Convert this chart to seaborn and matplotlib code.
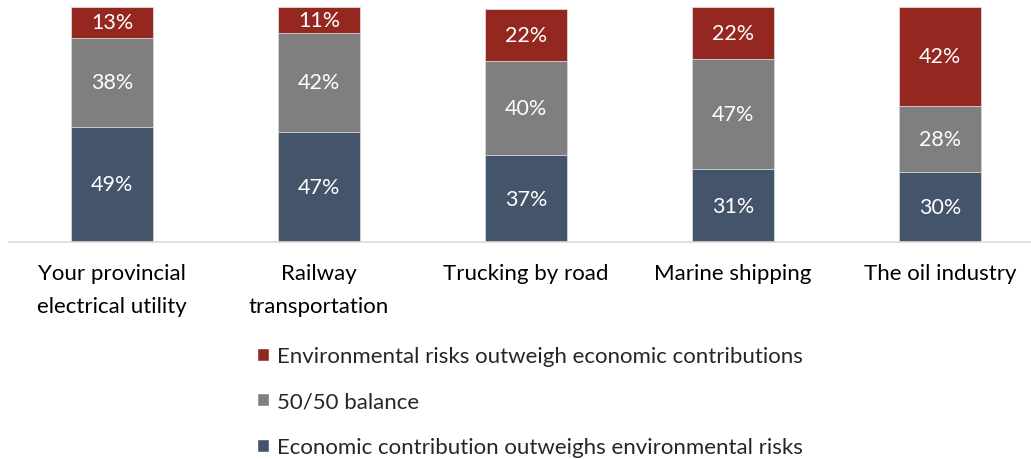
import matplotlib
matplotlib.use("Agg")
import matplotlib.pyplot as plt
import seaborn as sns
import numpy as np
import pandas as pd
from matplotlib.patches import Patch

categories = ["Your provincial\nelectrical utility", "Railway\ntransportation",
              "Trucking by road", "Marine shipping", "The oil industry"]
economic = [49, 47, 37, 31, 30]
balance = [38, 42, 40, 47, 28]
environmental = [13, 11, 22, 22, 42]
series_names = ["Environmental risks outweigh economic contributions",
                "50/50 balance",
                "Economic contribution outweighs environmental risks"]

c_env = "#952721"
c_bal = "#7F7F7F"
c_eco = "#44546A"

sns.set_theme(style="white")
plt.rcParams['font.family'] = ['Lato', 'DejaVu Sans']

fig = plt.figure(figsize=(10.31, 4.6), dpi=100)
ax = fig.add_axes([8.5/1031, 1-243/460, 1022.5/1031, 235/460])

eco = np.array(economic)
bal = np.array(balance)
env = np.array(environmental)
df = pd.DataFrame({"cat": categories,
                   "top": eco + bal + env,
                   "mid": eco + bal,
                   "low": eco})

for col, colr in [("top", c_env), ("mid", c_bal), ("low", c_eco)]:
    sns.barplot(data=df, x="cat", y=col, color=colr, width=0.396,
                edgecolor="#D9D9D9", linewidth=0.6, ax=ax, saturation=1)

for i in range(len(categories)):
    for bottom, val in [(0, eco[i]), (eco[i], bal[i]), (eco[i] + bal[i], env[i])]:
        ax.text(i, bottom + val / 2, f"{val}%", ha="center", va="center",
                color="white", fontsize=15.5)

ax.set_ylim(0, 100)
ax.set_xlim(-0.5, -0.5 + 1022.5 / 207)
ax.set_xlabel("")
ax.set_ylabel("")
ax.set_yticks([])
for s in ["top", "left", "right"]:
    ax.spines[s].set_visible(False)
ax.spines["bottom"].set_color("#D9D9D9")
ax.spines["bottom"].set_linewidth(1.2)
ax.tick_params(axis="x", length=0, pad=15, labelsize=16, labelcolor="black")
for t in ax.get_xticklabels():
    t.set_linespacing(1.85)

handles = [Patch(facecolor=c_env), Patch(facecolor=c_bal), Patch(facecolor=c_eco)]
fig.legend(handles, series_names, loc="upper left",
           bbox_to_anchor=(257/1031, 1 - 347/460), frameon=False,
           fontsize=16, handlelength=0.54, handleheight=0.54,
           handletextpad=0.38, labelspacing=1.15, borderpad=0, borderaxespad=0)

fig.savefig("out.png", dpi=100)
